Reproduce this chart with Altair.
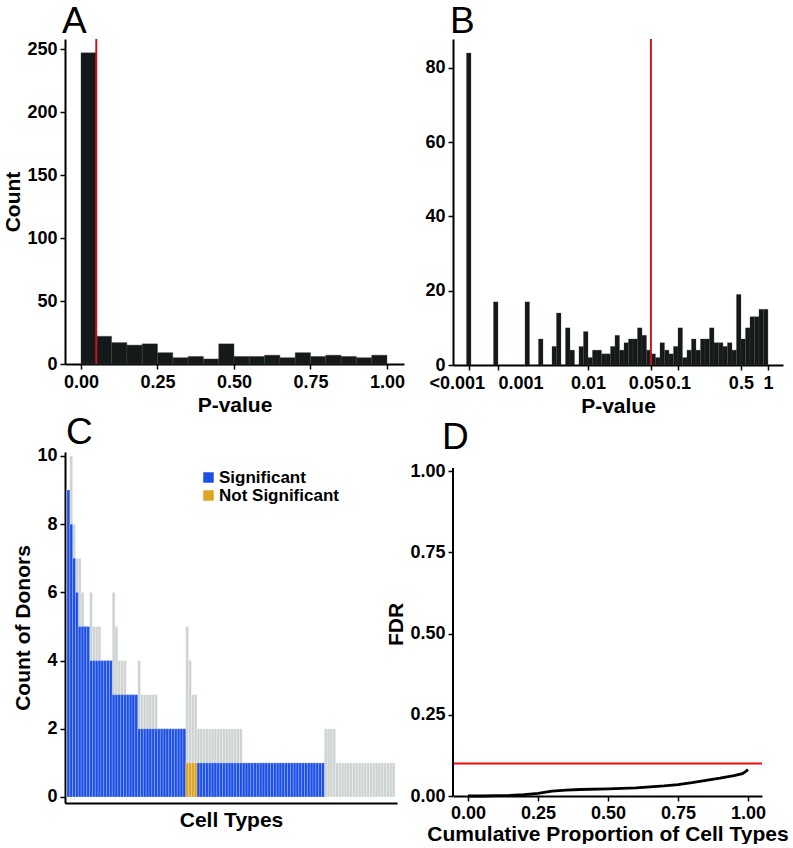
import math
import altair as alt
import pandas as pd

FONT = "Liberation Sans"

# ---------------- Panel A: histogram of raw p-values ----------------
a_bin_width = 0.05
a_counts = [247, 22, 17, 15, 16, 9, 5, 6, 4, 16, 6, 6, 7, 5, 9, 6, 7, 6, 5, 7]
a_cutoff = 0.05
a_ticks = [0, 0.25, 0.5, 0.75, 1.0]
a_yticks = [0, 50, 100, 150, 200, 250]

# ---------------- Panel B: histogram on log10 p-value axis ----------------
b_bin_start = -3.35   # log10 of left edge of the first bin
b_bin_width = 0.05    # bin width in log10 units
b_counts = [84, 0, 0, 0, 0, 0, 17, 0, 0, 0, 0, 0, 0, 17, 0, 0, 7, 0, 0,
            5, 14, 0, 10, 4, 0, 5, 9, 2, 4, 4, 3, 3, 5, 8, 4, 6, 7, 7, 10, 8, 4,
            3, 2, 6, 4, 3, 5, 10, 2, 4, 7, 4, 7, 7, 10, 6, 6, 5, 6, 4, 19, 7, 10,
            13, 13, 15, 15]
b_cutoff = 0.05
b_tick_pvals = [0.000473, 0.001, 0.01, 0.05, 0.1, 0.5, 1.0]
b_tick_labels = ["<0.001", "0.001", "0.01", "0.05", "0.1", "0.5", "1"]
b_yticks = [0, 20, 40, 60, 80]

# ---------------- Panel C: donors per cell type ----------------
c_total = ([9, 10, 8, 7, 7, 6, 5, 5, 6, 5, 5, 5, 4, 4, 4, 4,
            6, 5, 4, 4, 4, 3, 3, 3, 3,
            4, 3, 3, 3, 3, 3, 3, 2, 2, 2, 2, 2, 2, 2, 2, 2, 2,
            5, 4, 3, 3]
           + [2] * 16 + [1] * 29 + [2] * 4 + [1] * 21)
c_sig = ([9, 8, 7, 6, 5, 5, 5, 5, 4, 4, 4, 4, 4, 4, 4, 4]
         + [3] * 9 + [2] * 17 + [1] * 4 + [1] * 45 + [0] * 25)
c_status = (["Significant"] * 42 + ["Not Significant"] * 4
            + ["Significant"] * 45 + ["None"] * 25)
c_yticks = [0, 2, 4, 6, 8, 10]

# ---------------- Panel D: FDR curve ----------------
d_prop = [0.0, 0.05, 0.10, 0.15, 0.20, 0.25, 0.30, 0.35, 0.40, 0.50, 0.60,
          0.70, 0.75, 0.80, 0.85, 0.90, 0.95, 0.98, 0.99, 1.0]
d_fdr = [0.000, 0.000, 0.001, 0.002, 0.004, 0.008, 0.015, 0.018, 0.020, 0.022,
         0.025, 0.031, 0.035, 0.041, 0.048, 0.055, 0.063, 0.069, 0.074, 0.081]
d_threshold = 0.1
d_ticks = [0, 0.25, 0.5, 0.75, 1.0]
d_axis_top = 1.0092

BAR_DARK = "#15191a"
RED_AB = "#c8161d"
RED_D = "#f20d0d"
BLUE = "#1c4fe6"
ORANGE = "#dba522"
GREY = "#cdd3d0"


def panel_title(letter, offset, dx):
    return alt.TitleParams(letter, anchor="start", frame="group", fontSize=37,
                           font=FONT, fontWeight="normal", color="black",
                           baseline="alphabetic", offset=offset, dx=dx)


# ---- A ----
dfA = pd.DataFrame({
    "start": [i * a_bin_width for i in range(len(a_counts))],
    "count": a_counts,
})
dfA["end"] = dfA["start"] + a_bin_width

xA = alt.X("start:Q", scale=alt.Scale(domain=[-0.0523, 1.0556], nice=False, zero=False),
           axis=alt.Axis(values=a_ticks, format=".2f", title="P-value",
                         labelPadding=4, titlePadding=3, labelOverlap=False))
barsA = alt.Chart(dfA).mark_rect(color=BAR_DARK, stroke="#3c3f40", strokeWidth=0.4).encode(
    x=xA,
    x2="end:Q",
    y=alt.Y("count:Q", scale=alt.Scale(domain=[0, 258], nice=False),
            axis=alt.Axis(values=a_yticks, title="Count", labelPadding=3, titlePadding=3)),
    y2=alt.datum(0),
)
ruleA = alt.Chart(pd.DataFrame({"p": [a_cutoff]})).mark_rule(color=RED_AB, strokeWidth=2).encode(
    x=alt.X("p:Q")
)
chartA = alt.layer(barsA, ruleA).properties(width=339, height=325,
                                             title=panel_title("A", -32, -3))

# ---- B ----
dfB = pd.DataFrame({
    "start": [b_bin_start + i * b_bin_width for i in range(len(b_counts))],
    "count": b_counts,
})
dfB["end"] = dfB["start"] + b_bin_width
dfB = dfB[dfB["count"] > 0]

b_tick_vals = [math.log10(p) for p in b_tick_pvals]
b_label_expr = ""
for i, (v, lab) in enumerate(zip(b_tick_vals, b_tick_labels)):
    if i < len(b_tick_vals) - 1:
        mid = (v + b_tick_vals[i + 1]) / 2
        b_label_expr += f"datum.value < {mid:.4f} ? '{lab}' : "
    else:
        b_label_expr += f"'{lab}'"

xB = alt.X("start:Q", scale=alt.Scale(domain=[-3.5, 0.167], nice=False, zero=False),
           axis=alt.Axis(values=b_tick_vals, labelExpr=b_label_expr, title="P-value",
                         labelPadding=4, titlePadding=3, labelOverlap=False,
                         labelOffset={"condition": [
                             {"test": "datum.value < -3.1", "value": -12},
                             {"test": "datum.value > -1.4 && datum.value < -1.2", "value": -5}],
                             "value": 0},
                         labelAlign={"condition": {"test": "datum.value > -3.1 && datum.value < -2.5",
                                                   "value": "left"},
                                     "value": "center"}))
barsB = alt.Chart(dfB).mark_rect(color=BAR_DARK, stroke="#3c3f40", strokeWidth=0.3).encode(
    x=xB,
    x2="end:Q",
    y=alt.Y("count:Q", scale=alt.Scale(domain=[0, 87.8], nice=False),
            axis=alt.Axis(values=b_yticks, title=None, labelPadding=3)),
    y2=alt.datum(0),
)
ruleB = alt.Chart(pd.DataFrame({"p": [math.log10(b_cutoff)]})).mark_rule(
    color=RED_AB, strokeWidth=2).encode(x=alt.X("p:Q"))
chartB = alt.layer(barsB, ruleB).properties(width=330, height=326,
                                             title=panel_title("B", -32, -3))

# ---- C ----
dfC = pd.DataFrame({
    "idx": list(range(1, len(c_total) + 1)),
    "total": c_total,
    "sig": c_sig,
    "status": c_status,
})
xC = alt.X("idx:O", scale=alt.Scale(paddingInner=0, paddingOuter=0.7),
           axis=alt.Axis(title="Cell Types", labels=False, ticks=False, titlePadding=6))
yC_scale = alt.Scale(domain=[-0.176, 10.117], nice=False, zero=False)
greyC = alt.Chart(dfC).mark_bar(color=GREY, stroke="white", strokeWidth=0.5,
                                strokeOpacity=0.6).encode(
    x=xC,
    y=alt.Y("total:Q", scale=yC_scale,
            axis=alt.Axis(values=c_yticks, title="Count of Donors", labelPadding=3,
                          titlePadding=3)),
    y2=alt.datum(0),
)
colC = alt.Chart(dfC[dfC["sig"] > 0]).mark_bar(stroke="white", strokeWidth=0.5,
                                              strokeOpacity=0.45).encode(
    x=xC,
    y=alt.Y("sig:Q", scale=yC_scale),
    y2=alt.datum(0),
    color=alt.Color("status:N",
                    scale=alt.Scale(domain=["Significant", "Not Significant"],
                                    range=[BLUE, ORANGE]),
                    legend=alt.Legend(title=None, orient="none", legendX=135, legendY=17,
                                      symbolType="square", symbolSize=110,
                                      symbolStrokeWidth=0, labelFontSize=17,
                                      labelFont=FONT, labelFontWeight="bold",
                                      labelColor="black", rowPadding=0, labelOffset=2)),
)
chartC = alt.layer(greyC, colC).properties(width=332, height=351,
                                            title=panel_title("C", -34, 1))

# ---- D ----
dfD = pd.DataFrame({"prop": d_prop, "fdr": d_fdr})
xD_scale = alt.Scale(domain=[-0.0536, 1.05], nice=False, zero=False)
xD = alt.X("prop:Q", scale=xD_scale,
           axis=alt.Axis(values=d_ticks, format=".2f",
                         title="Cumulative Proportion of Cell Types",
                         labelPadding=3, titlePadding=1, labelOverlap=False))
yD = alt.Y("fdr:Q", scale=alt.Scale(domain=[0, 1.0585], nice=False),
           axis=alt.Axis(values=d_ticks, format=".2f", title="FDR", labelPadding=3,
                         titlePadding=3, domain=False))
lineD = alt.Chart(dfD).mark_line(color="black", strokeWidth=2.8).encode(x=xD, y=yD)
ruleD = alt.Chart(pd.DataFrame({"t": [d_threshold]})).mark_rule(
    color=RED_D, strokeWidth=2).encode(y=alt.Y("t:Q"))
axisD = alt.Chart(pd.DataFrame({"lo": [0.0], "hi": [d_axis_top],
                                "x": [-0.0536]})).mark_rule(
    color="black", strokeWidth=2).encode(
    x=alt.X("x:Q"), y=alt.Y("lo:Q"), y2="hi:Q")
chartD = alt.layer(ruleD, lineD, axisD).properties(width=309, height=344,
                                                   title=panel_title("D", -34, -11))

chart = alt.concat(chartA, chartB, chartC, chartD, columns=2,
                   spacing={"row": 87, "column": 49}, bounds="flush").resolve_scale(
    color="independent").resolve_legend(color="independent").properties(
    padding={"left": 2, "top": 3, "right": 0, "bottom": 0},
    background="white",
).configure_view(stroke=None).configure_axis(
    grid=False, domainColor="black", domainWidth=2, tickColor="black",
    tickWidth=1.5, tickSize=5, labelFont=FONT, labelFontSize=18,
    labelFontWeight="bold", labelColor="black", titleFont=FONT,
    titleFontSize=21, titleFontWeight="bold", titleColor="black",
).configure_title(font=FONT)

chart.save("out.html", embed_options={"renderer": "svg", "actions": False})
